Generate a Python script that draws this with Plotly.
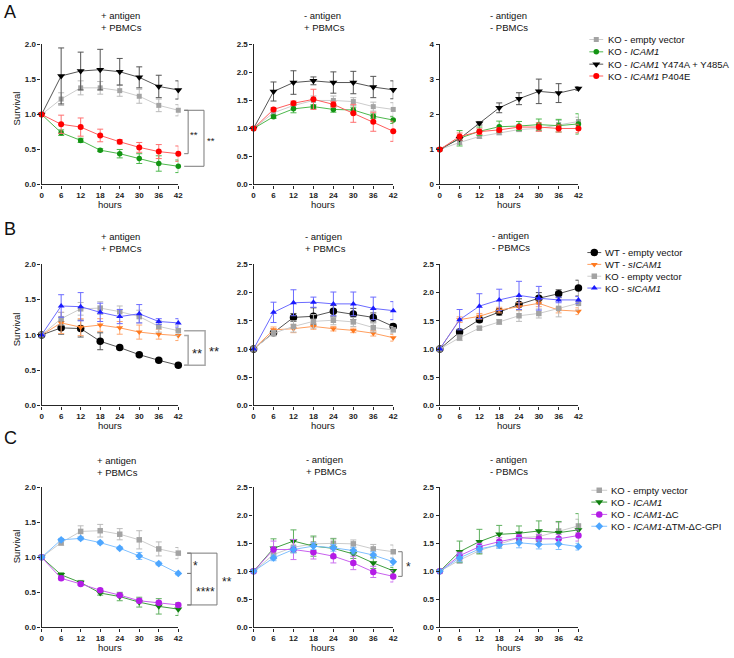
import plotly.graph_objects as go

W, H = 734, 658
FONT = "Arial, 'Liberation Sans', Helvetica, sans-serif"

hours = [0, 6, 12, 18, 24, 30, 36, 42]

# ---------------- Panel A ----------------
A_names = ["KO - empty vector", "KO - <i>ICAM1</i>",
           "KO - <i>ICAM1</i> Y474A + Y485A", "KO - <i>ICAM1</i> P404E"]
# + antigen + PBMCs
A1_ev = [1.0, 1.22, 1.38, 1.38, 1.34, 1.26, 1.13, 1.06]
A1_ev_err = [0, 0.09, 0.10, 0.09, 0.08, 0.10, 0.09, 0.08]
A1_ic = [1.0, 0.74, 0.63, 0.49, 0.44, 0.37, 0.30, 0.26]
A1_ic_err = [0, 0.04, 0.03, 0.02, 0.06, 0.07, 0.11, 0.09]
A1_yy = [1.0, 1.55, 1.62, 1.64, 1.61, 1.53, 1.40, 1.35]
A1_yy_err = [0, 0.40, 0.27, 0.29, 0.19, 0.15, 0.16, 0.13]
A1_pe = [1.0, 0.86, 0.82, 0.70, 0.61, 0.53, 0.47, 0.44]
A1_pe_err = [0, 0.13, 0.13, 0.09, 0.03, 0.07, 0.10, 0.11]
# - antigen + PBMCs
A2_ev = [1.0, 1.28, 1.41, 1.50, 1.50, 1.48, 1.39, 1.34]
A2_ev_err = [0, 0.05, 0.06, 0.08, 0.08, 0.07, 0.08, 0.12]
A2_ic = [1.0, 1.21, 1.35, 1.39, 1.34, 1.33, 1.22, 1.15]
A2_ic_err = [0, 0.03, 0.07, 0.03, 0.05, 0.05, 0.04, 0.06]
A2_yy = [1.0, 1.66, 1.82, 1.85, 1.82, 1.82, 1.74, 1.69]
A2_yy_err = [0, 0.17, 0.21, 0.07, 0.19, 0.20, 0.19, 0.16]
A2_pe = [1.0, 1.34, 1.45, 1.52, 1.43, 1.27, 1.12, 0.95]
A2_pe_err = [0, 0.03, 0.04, 0.18, 0.05, 0.16, 0.17, 0.18]
# - antigen - PBMCs
A3_ev = [1.0, 1.20, 1.37, 1.48, 1.57, 1.60, 1.71, 1.80]
A3_ev_err = [0, 0.05, 0.05, 0.06, 0.06, 0.08, 0.12, 0.12]
A3_ic = [1.0, 1.32, 1.52, 1.65, 1.67, 1.71, 1.68, 1.73]
A3_ic_err = [0, 0.22, 0.12, 0.16, 0.13, 0.16, 0.18, 0.29]
A3_yy = [1.0, 1.31, 1.75, 2.19, 2.45, 2.66, 2.61, 2.74]
A3_yy_err = [0, 0.05, 0.05, 0.14, 0.17, 0.35, 0.27, 0.05]
A3_pe = [1.0, 1.37, 1.51, 1.56, 1.64, 1.64, 1.60, 1.60]
A3_pe_err = [0, 0.10, 0.08, 0.06, 0.05, 0.12, 0.10, 0.12]

# ---------------- Panel B ----------------
B_names = ["WT - empty vector", "WT - <i>sICAM1</i>",
           "KO - empty vector", "KO - <i>sICAM1</i>"]
B1_wev = [1.0, 1.10, 1.09, 0.91, 0.82, 0.72, 0.64, 0.57]
B1_wev_err = [0, 0.09, 0.12, 0.12, 0.02, 0.02, 0.02, 0.03]
B1_wsi = [1.0, 1.17, 1.11, 1.14, 1.10, 1.04, 1.01, 0.99]
B1_wsi_err = [0, 0.15, 0.12, 0.09, 0.09, 0.10, 0.07, 0.07]
B1_kev = [1.0, 1.23, 1.37, 1.38, 1.33, 1.26, 1.12, 1.06]
B1_kev_err = [0, 0.09, 0.09, 0.09, 0.08, 0.09, 0.08, 0.07]
B1_ksi = [1.0, 1.41, 1.40, 1.32, 1.26, 1.30, 1.19, 1.17]
B1_ksi_err = [0, 0.16, 0.20, 0.13, 0.10, 0.13, 0.04, 0.06]

B2_wev = [1.0, 1.29, 1.56, 1.58, 1.67, 1.62, 1.56, 1.40]
B2_wev_err = [0, 0.03, 0.07, 0.15, 0.10, 0.10, 0.08, 0.05]
B2_wsi = [1.0, 1.34, 1.36, 1.40, 1.36, 1.33, 1.28, 1.20]
B2_wsi_err = [0, 0.05, 0.07, 0.05, 0.04, 0.04, 0.05, 0.06]
B2_kev = [1.0, 1.28, 1.40, 1.49, 1.51, 1.48, 1.38, 1.34]
B2_kev_err = [0, 0.05, 0.10, 0.12, 0.08, 0.08, 0.08, 0.06]
B2_ksi = [1.0, 1.65, 1.82, 1.83, 1.80, 1.80, 1.72, 1.68]
B2_ksi_err = [0, 0.18, 0.23, 0.09, 0.21, 0.21, 0.20, 0.16]

B3_wev = [1.0, 1.30, 1.52, 1.66, 1.79, 1.90, 1.98, 2.08]
B3_wev_err = [0, 0.05, 0.05, 0.06, 0.10, 0.10, 0.07, 0.14]
B3_wsi = [1.0, 1.52, 1.58, 1.69, 1.75, 1.81, 1.69, 1.67]
B3_wsi_err = [0, 0.05, 0.05, 0.05, 0.07, 0.06, 0.05, 0.06]
B3_kev = [1.0, 1.20, 1.37, 1.48, 1.59, 1.63, 1.72, 1.81]
B3_kev_err = [0, 0.05, 0.03, 0.04, 0.10, 0.08, 0.15, 0.12]
B3_ksi = [1.0, 1.52, 1.76, 1.87, 1.95, 1.90, 1.87, 1.87]
B3_ksi_err = [0, 0.18, 0.22, 0.19, 0.25, 0.21, 0.05, 0.06]

# ---------------- Panel C ----------------
C_names = ["KO - empty vector", "KO - <i>ICAM1</i>",
           "KO - <i>ICAM1</i>-ΔC", "KO - <i>ICAM1</i>-ΔTM-ΔC-GPI"]
C1_ev = [1.0, 1.21, 1.37, 1.38, 1.33, 1.25, 1.12, 1.06]
C1_ev_err = [0, 0.04, 0.08, 0.09, 0.08, 0.13, 0.10, 0.08]
C1_ic = [1.0, 0.75, 0.64, 0.49, 0.44, 0.36, 0.30, 0.26]
C1_ic_err = [0, 0.03, 0.03, 0.03, 0.06, 0.07, 0.11, 0.09]
C1_dc = [1.0, 0.70, 0.62, 0.53, 0.46, 0.38, 0.35, 0.32]
C1_dc_err = [0, 0.02, 0.02, 0.02, 0.02, 0.03, 0.02, 0.02]
C1_gpi = [1.0, 1.25, 1.27, 1.21, 1.13, 1.02, 0.91, 0.77]
C1_gpi_err = [0, 0.02, 0.02, 0.02, 0.02, 0.05, 0.02, 0.02]

C2_ev = [1.0, 1.30, 1.43, 1.49, 1.50, 1.49, 1.40, 1.35]
C2_ev_err = [0, 0.08, 0.10, 0.12, 0.09, 0.07, 0.08, 0.12]
C2_ic = [1.0, 1.41, 1.54, 1.45, 1.41, 1.31, 1.15, 1.01]
C2_ic_err = [0, 0.17, 0.20, 0.18, 0.17, 0.08, 0.10, 0.06]
C2_dc = [1.0, 1.39, 1.39, 1.34, 1.27, 1.15, 0.99, 0.91]
C2_dc_err = [0, 0.15, 0.18, 0.12, 0.12, 0.12, 0.10, 0.10]
C2_gpi = [1.0, 1.24, 1.39, 1.45, 1.42, 1.37, 1.29, 1.17]
C2_gpi_err = [0, 0.05, 0.06, 0.06, 0.06, 0.06, 0.06, 0.07]

C3_ev = [1.0, 1.20, 1.37, 1.48, 1.60, 1.62, 1.72, 1.81]
C3_ev_err = [0, 0.06, 0.05, 0.06, 0.06, 0.08, 0.15, 0.12]
C3_ic = [1.0, 1.35, 1.53, 1.66, 1.68, 1.72, 1.69, 1.74]
C3_ic_err = [0, 0.19, 0.22, 0.16, 0.13, 0.18, 0.20, 0.29]
C3_dc = [1.0, 1.28, 1.44, 1.53, 1.60, 1.58, 1.58, 1.64]
C3_dc_err = [0, 0.06, 0.06, 0.07, 0.06, 0.08, 0.08, 0.10]
C3_gpi = [1.0, 1.24, 1.40, 1.47, 1.51, 1.48, 1.49, 1.44]
C3_gpi_err = [0, 0.07, 0.06, 0.06, 0.09, 0.08, 0.10, 0.06]

# ---------------- styles ----------------
STY_A = [
    dict(mc="#a3a3a3", lc="#cccccc", ec="#bbbbbb", sym="square", size=5),
    dict(mc="#139413", lc="#4db84d", ec="#4db84d", sym="circle", size=5.5),
    dict(mc="#000000", lc="#555555", ec="#555555", sym="triangle-down", size=7),
    dict(mc="#ff0000", lc="#ff5c5c", ec="#ff7070", sym="circle", size=6),
]
STY_B = [
    dict(mc="#000000", lc="#555555", ec="#555555", sym="circle", size=7.5),
    dict(mc="#ff7a1f", lc="#ff9e5e", ec="#ffa870", sym="triangle-down", size=6),
    dict(mc="#a3a3a3", lc="#cccccc", ec="#bbbbbb", sym="square", size=5.5),
    dict(mc="#1a1aff", lc="#6b6bff", ec="#6b6bff", sym="triangle-up", size=6),
]
STY_C = [
    dict(mc="#a3a3a3", lc="#cccccc", ec="#bbbbbb", sym="square", size=5.5),
    dict(mc="#0f7f0f", lc="#3f9f3f", ec="#5fb05f", sym="triangle-down", size=7),
    dict(mc="#b41ce6", lc="#c860ee", ec="#cc70f0", sym="circle", size=6.5),
    dict(mc="#4da6ff", lc="#80c0ff", ec="#80c0ff", sym="diamond", size=6),
]


def px(x):
    return x / W


def py(y):
    return 1 - y / H


COLS = [(40, 178), (254, 395), (442, 582)]
ROWS = {"A": (41, 183), "B": (264, 407), "C": (490, 632)}

PANELS = [
    ("A", 0, 2.0, 0.5, ".1f", STY_A, [(A1_ev, A1_ev_err), (A1_ic, A1_ic_err), (A1_yy, A1_yy_err), (A1_pe, A1_pe_err)]),
    ("A", 1, 2.5, 0.5, ".1f", STY_A, [(A2_ev, A2_ev_err), (A2_ic, A2_ic_err), (A2_yy, A2_yy_err), (A2_pe, A2_pe_err)]),
    ("A", 2, 4.0, 1.0, "d", STY_A, [(A3_ev, A3_ev_err), (A3_ic, A3_ic_err), (A3_yy, A3_yy_err), (A3_pe, A3_pe_err)]),
    ("B", 0, 2.0, 0.5, ".1f", STY_B, [(B1_wev, B1_wev_err), (B1_wsi, B1_wsi_err), (B1_kev, B1_kev_err), (B1_ksi, B1_ksi_err)]),
    ("B", 1, 2.5, 0.5, ".1f", STY_B, [(B2_wev, B2_wev_err), (B2_wsi, B2_wsi_err), (B2_kev, B2_kev_err), (B2_ksi, B2_ksi_err)]),
    ("B", 2, 2.5, 0.5, ".1f", STY_B, [(B3_wev, B3_wev_err), (B3_wsi, B3_wsi_err), (B3_kev, B3_kev_err), (B3_ksi, B3_ksi_err)]),
    ("C", 0, 2.0, 0.5, ".1f", STY_C, [(C1_ev, C1_ev_err), (C1_ic, C1_ic_err), (C1_dc, C1_dc_err), (C1_gpi, C1_gpi_err)]),
    ("C", 1, 2.5, 0.5, ".1f", STY_C, [(C2_ev, C2_ev_err), (C2_ic, C2_ic_err), (C2_dc, C2_dc_err), (C2_gpi, C2_gpi_err)]),
    ("C", 2, 2.5, 0.5, ".1f", STY_C, [(C3_ev, C3_ev_err), (C3_ic, C3_ic_err), (C3_dc, C3_dc_err), (C3_gpi, C3_gpi_err)]),
]

TITLES = {
    ("A", 0): ("+ antigen<br>+ PBMCs", 98, 17.5),
    ("A", 1): ("- antigen<br>+ PBMCs", 303, 17.5),
    ("A", 2): ("- antigen<br>- PBMCs", 491, 17.5),
    ("B", 0): ("+ antigen<br>+ PBMCs", 98, 242),
    ("B", 1): ("- antigen<br>+ PBMCs", 304, 242),
    ("B", 2): ("- antigen<br>- PBMCs", 493, 241),
    ("C", 0): ("+ antigen<br>+ PBMCs", 94, 469),
    ("C", 1): ("- antigen<br>+ PBMCs", 305, 468),
    ("C", 2): ("- antigen<br>- PBMCs", 491, 468),
}

fig = go.Figure()
layout = dict(
    width=W, height=H, margin=dict(l=0, r=0, t=0, b=0),
    paper_bgcolor="white", plot_bgcolor="rgba(0,0,0,0)",
    showlegend=False, font=dict(family=FONT, color="#222"),
)
annotations = []
shapes = []

AXC = "#262626"
TICKFONT = dict(size=8, weight="bold", color="#222")
for i, (row, col, ymax, dtick, fmt, sty, series) in enumerate(PANELS):
    n = i + 1
    xa = "x" if n == 1 else f"x{n}"
    ya = "y" if n == 1 else f"y{n}"
    xk = "xaxis" if n == 1 else f"xaxis{n}"
    yk = "yaxis" if n == 1 else f"yaxis{n}"
    x0, x1 = COLS[col]
    y0, y1 = ROWS[row]
    layout[xk] = dict(
        domain=[px(x0), px(x1)], range=[0, 42], anchor=ya,
        tickvals=hours, ticks="outside", ticklen=3, tickwidth=1.1, tickcolor=AXC,
        showline=True, linecolor=AXC, linewidth=1.3, showgrid=False, zeroline=False,
        tickfont=TICKFONT, fixedrange=True,
    )
    layout[yk] = dict(
        domain=[py(y1), py(y0)], range=[0, ymax], anchor=xa,
        dtick=dtick, tick0=0, tickformat=fmt, ticks="outside", ticklen=3, tickwidth=1.1,
        tickcolor=AXC, showline=True, linecolor=AXC, linewidth=1.3, showgrid=False,
        zeroline=False, tickfont=TICKFONT, fixedrange=True,
    )
    for (vals, errs), s in zip(series, sty):
        fig.add_trace(go.Scatter(
            x=hours, y=vals, xaxis=xa, yaxis=ya, mode="lines+markers",
            line=dict(color=s["lc"], width=1),
            marker=dict(color=s["mc"], symbol=s["sym"], size=s["size"], line=dict(width=0)),
            error_y=dict(type="data", array=errs, visible=True, color=s["ec"],
                         thickness=1, width=3),
            cliponaxis=False, hoverinfo="skip",
        ))
    txt, tx, ty = TITLES[(row, col)]
    annotations.append(dict(text=txt, x=px(tx), y=py(ty), xref="paper", yref="paper",
                            xanchor="left", yanchor="middle", align="left", showarrow=False,
                            font=dict(size=9.5, color="#111")))
    annotations.append(dict(text="hours", x=px((x0 + x1) / 2), y=py(y1 + 20),
                            xref="paper", yref="paper", xanchor="center", yanchor="middle",
                            showarrow=False, font=dict(size=9.5, color="#111")))

# Survival labels and panel letters
for row, yc in [("A", 106), ("B", 330), ("C", 550)]:
    annotations.append(dict(text="Survival", x=px(15), y=py(yc), xref="paper", yref="paper",
                            textangle=-90, xanchor="center", yanchor="middle", showarrow=False,
                            font=dict(size=9.5, color="#111")))
for letter, yc in [("A", 8.5), ("B", 228), ("C", 440.5)]:
    annotations.append(dict(text=letter, x=px(0), y=py(yc), xref="paper", yref="paper",
                            xanchor="left", yanchor="middle", showarrow=False,
                            font=dict(size=18, color="#111")))


# ---------------- significance brackets ----------------
def bracket(n, ymax, ytop, ybot, d0, d1, color, width):
    xa = "x" if n == 1 else f"x{n}"
    ya = "y" if n == 1 else f"y{n}"
    t, b = ytop / ymax, ybot / ymax
    shapes.append(dict(type="path", xref=f"{xa} domain", yref=f"{ya} domain",
                       path=f"M {d0},{t} L {d1},{t} L {d1},{b} L {d0},{b}",
                       line=dict(color=color, width=width)))


def stars(n, ymax, ytop, ybot, xd, text, size, color):
    xa = "x" if n == 1 else f"x{n}"
    ya = "y" if n == 1 else f"y{n}"
    annotations.append(dict(text=text, x=xd, y=(ytop + ybot) / 2 / ymax,
                            xref=f"{xa} domain", yref=f"{ya} domain", xanchor="center",
                            yanchor="middle", yshift=-0.25 * size, showarrow=False,
                            font=dict(size=size, color=color)))


GA = "#7a7a7a"
bracket(1, 2.0, A1_ev[-1], A1_pe[-1], 1.043, 1.072, GA, 1)
bracket(1, 2.0, A1_ev[-1], A1_ic[-1], 1.043, 1.188, GA, 1)
stars(1, 2.0, A1_ev[-1], A1_pe[-1], 1.112, "**", 9.5, "#222")
stars(1, 2.0, A1_ev[-1], A1_ic[-1], 1.24, "**", 9.5, "#222")

GB = "#a8a8a8"
bracket(4, 2.0, B1_wsi[-1], B1_wev[-1], 1.043, 1.072, GB, 1.5)
bracket(4, 2.0, B1_kev[-1], B1_wev[-1], 1.043, 1.196, GB, 1.5)
stars(4, 2.0, B1_wsi[-1], B1_wev[-1], 1.138, "**", 13, "#222")
stars(4, 2.0, B1_kev[-1], B1_wev[-1], 1.261, "**", 13, "#222")

GC = "#7a7a7a"
bracket(7, 2.0, C1_ev[-1], C1_gpi[-1], 1.065, 1.094, GC, 1)
bracket(7, 2.0, C1_gpi[-1], C1_dc[-1], 1.065, 1.094, GC, 1)
bracket(7, 2.0, C1_ev[-1], C1_dc[-1], 1.065, 1.283, GC, 1)
stars(7, 2.0, C1_ev[-1], C1_gpi[-1], 1.123, "*", 12, "#222")
stars(7, 2.0, C1_gpi[-1], C1_dc[-1], 1.196, "****", 12, "#222")
stars(7, 2.0, C1_ev[-1], C1_dc[-1], 1.355, "**", 12, "#222")

bracket(8, 2.5, C2_ev[-1], C2_dc[-1], 1.035, 1.064, GC, 1)
stars(8, 2.5, C2_ev[-1], C2_dc[-1], 1.106, "*", 12, "#222")

# ---------------- custom legends (pixel overlay axis) ----------------
layout["xaxis10"] = dict(domain=[0, 1], range=[0, W], visible=False, fixedrange=True, anchor="y10")
layout["yaxis10"] = dict(domain=[0, 1], range=[H, 0], visible=False, fixedrange=True, anchor="x10")

LEGENDS = [
    (A_names, STY_A, [36, 48.5, 61, 73], 593, 607, 600, 610),
    (B_names, STY_B, [252, 264, 276, 288], 591, 605, 598, 607),
    (C_names, STY_C, [493, 505, 517.5, 529.5], 595, 611, 603, 613),
]
for names, sty, ys, lx0, lx1, mx, tx in LEGENDS:
    for name, s, ly in zip(names, sty, ys):
        fig.add_trace(go.Scatter(x=[lx0, lx1], y=[ly, ly], xaxis="x10", yaxis="y10",
                                 mode="lines", line=dict(color=s["lc"], width=1),
                                 hoverinfo="skip"))
        fig.add_trace(go.Scatter(x=[mx], y=[ly], xaxis="x10", yaxis="y10", mode="markers",
                                 marker=dict(color=s["mc"], symbol=s["sym"], size=s["size"],
                                             line=dict(width=0)),
                                 hoverinfo="skip"))
        annotations.append(dict(text=name, x=px(tx), y=py(ly), xref="paper", yref="paper",
                                xanchor="left", yanchor="middle", showarrow=False,
                                font=dict(size=9.5, color="#111")))

layout["annotations"] = annotations
layout["shapes"] = shapes
fig.update_layout(**layout)
fig.write_html("out.html", config={"displayModeBar": False},
               post_script="document.body.style.margin='0';document.body.style.padding='0';")
